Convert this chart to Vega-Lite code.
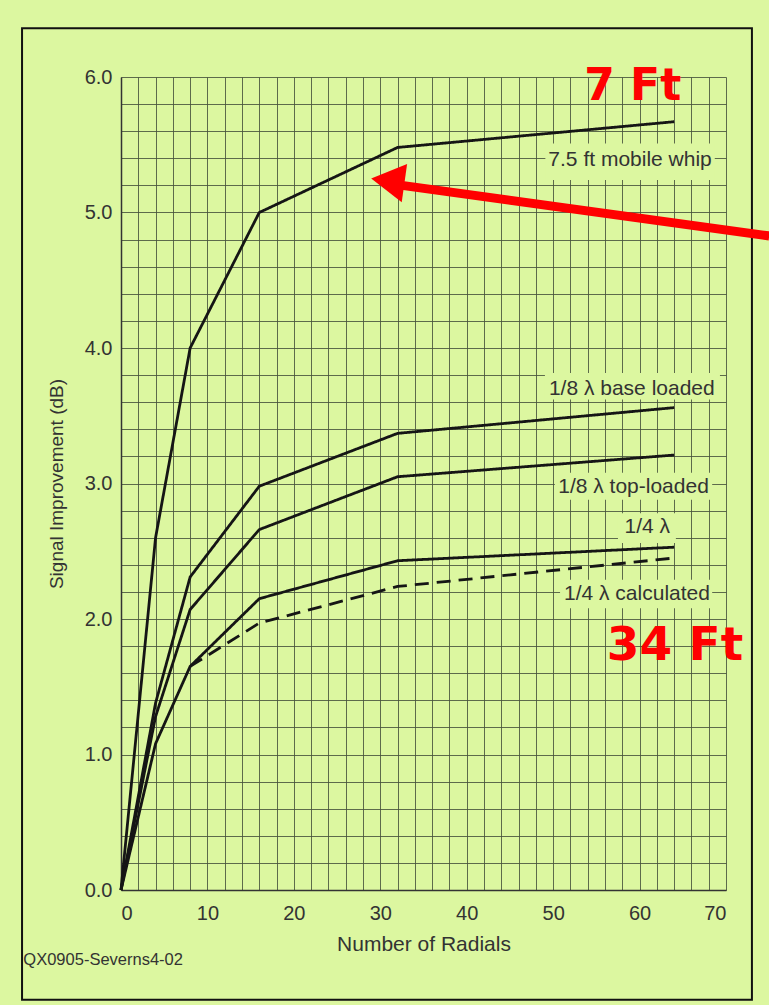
{
  "$schema": "https://vega.github.io/schema/vega-lite/v6.json",
  "autosize": "none",
  "width": 605,
  "height": 813,
  "padding": {"left": 121, "top": 77, "right": 43, "bottom": 115},
  "background": "#dcf7a0",
  "config": {
    "view": {"stroke": null},
    "font": "Liberation Sans",
    "axis": {
      "grid": true,
      "gridColor": "#46523c",
      "gridOpacity": 0.85,
      "gridWidth": 1,
      "ticks": false,
      "domainColor": "#333333",
      "domainWidth": 1.5,
      "labelFont": "Liberation Sans",
      "labelFontSize": 20,
      "labelColor": "#333333",
      "titleFont": "Liberation Sans",
      "titleFontWeight": "normal",
      "titleColor": "#333333",
      "labelOverlap": false,
      "tickCount": 200
    }
  },
  "datasets": {
    "curves": [
      {"series": "whip", "kind": "measured", "radials": 0, "db": 0},
      {"series": "whip", "kind": "measured", "radials": 4, "db": 2.6},
      {"series": "whip", "kind": "measured", "radials": 8, "db": 4.0},
      {"series": "whip", "kind": "measured", "radials": 16, "db": 5.0},
      {"series": "whip", "kind": "measured", "radials": 32, "db": 5.48},
      {"series": "whip", "kind": "measured", "radials": 64, "db": 5.67},
      {"series": "base", "kind": "measured", "radials": 0, "db": 0},
      {"series": "base", "kind": "measured", "radials": 4, "db": 1.38},
      {"series": "base", "kind": "measured", "radials": 8, "db": 2.31},
      {"series": "base", "kind": "measured", "radials": 16, "db": 2.98},
      {"series": "base", "kind": "measured", "radials": 32, "db": 3.37},
      {"series": "base", "kind": "measured", "radials": 64, "db": 3.56},
      {"series": "top", "kind": "measured", "radials": 0, "db": 0},
      {"series": "top", "kind": "measured", "radials": 4, "db": 1.28},
      {"series": "top", "kind": "measured", "radials": 8, "db": 2.07},
      {"series": "top", "kind": "measured", "radials": 16, "db": 2.66},
      {"series": "top", "kind": "measured", "radials": 32, "db": 3.05},
      {"series": "top", "kind": "measured", "radials": 64, "db": 3.21},
      {"series": "quarter", "kind": "measured", "radials": 0, "db": 0},
      {"series": "quarter", "kind": "measured", "radials": 4, "db": 1.08},
      {"series": "quarter", "kind": "measured", "radials": 8, "db": 1.65},
      {"series": "quarter", "kind": "measured", "radials": 16, "db": 2.15},
      {"series": "quarter", "kind": "measured", "radials": 32, "db": 2.43},
      {"series": "quarter", "kind": "measured", "radials": 64, "db": 2.53},
      {"series": "calc", "kind": "calculated", "radials": 8, "db": 1.65},
      {"series": "calc", "kind": "calculated", "radials": 16, "db": 1.97},
      {"series": "calc", "kind": "calculated", "radials": 32, "db": 2.24},
      {"series": "calc", "kind": "calculated", "radials": 64, "db": 2.45}
    ],
    "labels": [
      {"text": "7.5 ft mobile whip", "lx": 58.9, "ly": 5.39, "bx1": 49.1, "bx2": 68.7, "by1": 5.24, "by2": 5.51},
      {"text": "1/8 λ base loaded", "lx": 59.1, "ly": 3.70, "bx1": 49.05, "bx2": 69.3, "by1": 3.62, "by2": 3.815},
      {"text": "1/8 λ top-loaded", "lx": 59.3, "ly": 2.974, "bx1": 50.2, "bx2": 68.4, "by1": 2.88, "by2": 3.08},
      {"text": "1/4 λ", "lx": 60.9, "ly": 2.68, "bx1": 57.5, "bx2": 64.2, "by1": 2.56, "by2": 2.78},
      {"text": "1/4 λ calculated", "lx": 59.7, "ly": 2.185, "bx1": 50.8, "bx2": 68.4, "by1": 2.08, "by2": 2.29}
    ],
    "one": [{}]
  },
  "layer": [
    {
      "data": {"name": "curves"},
      "mark": {"type": "line", "strokeWidth": 2.8, "color": "#151515"},
      "encoding": {
        "x": {
          "field": "radials", "type": "quantitative",
          "scale": {"domain": [0, 70], "nice": false},
          "title": "Number of Radials",
          "axis": {
            "values": [0,2,4,6,8,10,12,14,16,18,20,22,24,26,28,30,32,34,36,38,40,42,44,46,48,50,52,54,56,58,60,62,64,66,68,70],
            "labelExpr": "datum.value % 10 === 0 ? format(datum.value, 'd') : ''",
            "labelPadding": 13,
            "titlePadding": 10,
            "titleFontSize": 21
          }
        },
        "y": {
          "field": "db", "type": "quantitative",
          "scale": {"domain": [0, 6], "nice": false},
          "title": "Signal Improvement (dB)",
          "axis": {
            "values": [0,0.2,0.4,0.6,0.8,1,1.2,1.4,1.6,1.8,2,2.2,2.4,2.6,2.8,3,3.2,3.4,3.6,3.8,4,4.2,4.4,4.6,4.8,5,5.2,5.4,5.6,5.8,6],
            "labelExpr": "abs(datum.value - round(datum.value)) < 0.01 ? format(datum.value, '.1f') : ''",
            "labelPadding": 9,
            "titlePadding": 18,
            "titleFontSize": 19
          }
        },
        "detail": {"field": "series"},
        "strokeDash": {
          "field": "kind", "type": "nominal",
          "scale": {"domain": ["measured", "calculated"], "range": [[1, 0], [14, 8]]},
          "legend": null
        }
      }
    },
    {
      "data": {"name": "labels"},
      "mark": {"type": "rect", "fill": "#dcf7a0"},
      "encoding": {
        "x": {"field": "bx1", "type": "quantitative"},
        "x2": {"field": "bx2"},
        "y": {"field": "by1", "type": "quantitative"},
        "y2": {"field": "by2"}
      }
    },
    {
      "data": {"name": "labels"},
      "mark": {"type": "text", "fontSize": 21, "color": "#333333", "baseline": "middle", "align": "center", "font": "Liberation Sans"},
      "encoding": {
        "x": {"field": "lx", "type": "quantitative"},
        "y": {"field": "ly", "type": "quantitative"},
        "text": {"field": "text"}
      }
    },
    {
      "data": {"name": "one"},
      "mark": {"type": "rect", "fill": null, "stroke": "#111111", "strokeWidth": 2},
      "encoding": {
        "x": {"datum": -11.45, "type": "quantitative"},
        "x2": {"datum": 73.0},
        "y": {"datum": -0.81, "type": "quantitative"},
        "y2": {"datum": 6.36}
      }
    },
    {
      "data": {"name": "one"},
      "mark": {"type": "text", "text": "QX0905-Severns4-02", "fontSize": 16.5, "color": "#333333", "align": "left", "baseline": "middle", "font": "Liberation Sans"},
      "encoding": {
        "x": {"datum": -11.3, "type": "quantitative"},
        "y": {"datum": -0.517, "type": "quantitative"}
      }
    },
    {
      "data": {"name": "one"},
      "mark": {"type": "text", "text": "7 Ft", "fontSize": 44, "fontWeight": "bold", "color": "#ff0000", "align": "center", "baseline": "alphabetic", "font": "DejaVu Sans"},
      "encoding": {
        "x": {"datum": 59.2, "type": "quantitative"},
        "y": {"datum": 5.83, "type": "quantitative"}
      }
    },
    {
      "data": {"name": "one"},
      "mark": {"type": "text", "text": "34 Ft", "fontSize": 47, "fontWeight": "bold", "color": "#ff0000", "align": "center", "baseline": "alphabetic", "font": "DejaVu Sans"},
      "encoding": {
        "x": {"datum": 64.1, "type": "quantitative"},
        "y": {"datum": 1.70, "type": "quantitative"}
      }
    },
    {
      "data": {"name": "one"},
      "mark": {"type": "rule", "color": "#ff0000", "strokeWidth": 9},
      "encoding": {
        "x": {"datum": 75.0, "type": "quantitative"},
        "x2": {"datum": 32.5},
        "y": {"datum": 4.827, "type": "quantitative"},
        "y2": {"datum": 5.2}
      }
    },
    {
      "data": {"name": "one"},
      "mark": {"type": "point", "shape": "triangle-left", "filled": true, "color": "#ff0000", "size": 1500, "angle": 8, "opacity": 1},
      "encoding": {
        "x": {"datum": 30.87, "type": "quantitative"},
        "y": {"datum": 5.234, "type": "quantitative"}
      }
    }
  ]
}
